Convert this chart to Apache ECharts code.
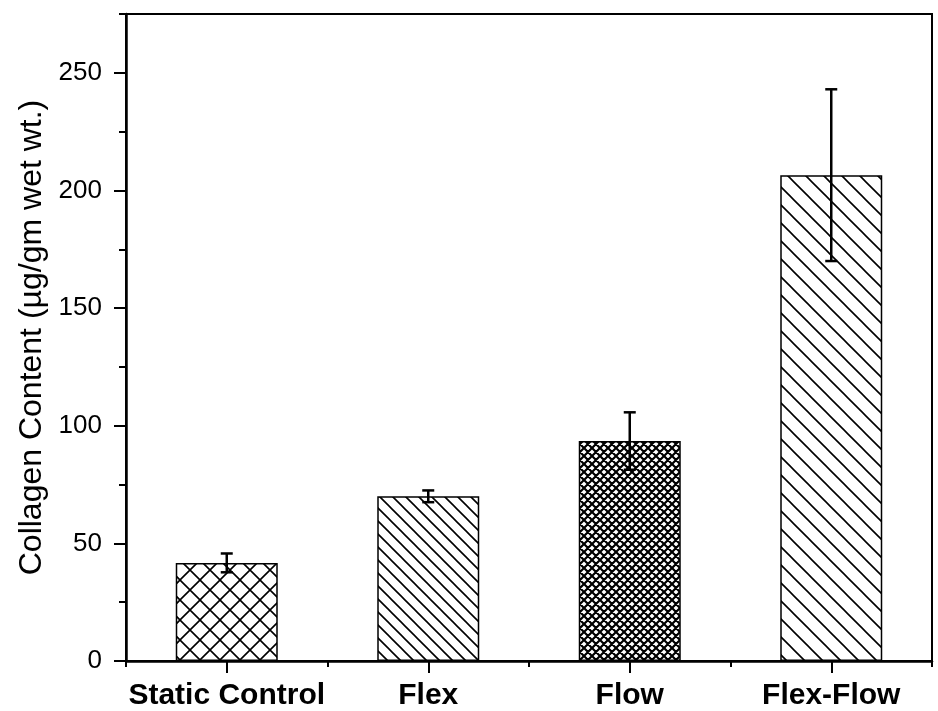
<!DOCTYPE html>
<html><head><meta charset="utf-8">
<script src="https://cdn.jsdelivr.net/npm/echarts@6/dist/echarts.min.js"></script>
<style>html,body{margin:0;padding:0;background:#fff}#c{width:938px;height:711px}</style>
</head><body><div id="c"></div>
<script>
// ---- data ----
const categories = ['Static Control', 'Flex', 'Flow', 'Flex-Flow'];
const means = [41.7, 70, 93.5, 206.5];
const errors = [4, 2.5, 12.2, 36.5];
const yAxisTitle = 'Collagen Content (\u00b5g/gm wet wt.)';

// ---- hatch patterns ----
function hatch(size, lw, back, fwd) {
  const c = document.createElement('canvas');
  c.width = c.height = size;
  const g = c.getContext('2d');
  g.fillStyle = '#fff'; g.fillRect(0, 0, size, size);
  g.strokeStyle = '#000'; g.lineWidth = lw;
  g.beginPath();
  if (back) {
    for (let k = -1; k <= 1; k++) {
      g.moveTo(k * size - lw, -lw); g.lineTo(k * size + size + lw, size + lw);
    }
  }
  if (fwd) {
    for (let k = 0; k <= 2; k++) {
      g.moveTo(k * size + lw, -lw); g.lineTo(k * size - size - lw, size + lw);
    }
  }
  g.stroke();
  return { image: c, repeat: 'repeat' };
}
const patterns = [hatch(20, 1.6, true, true), hatch(13, 1.6, true, false), hatch(8, 2.2, true, true), hatch(18, 1.6, true, false)];

const font = 'Liberation Sans, Arial, sans-serif';
const chart = echarts.init(document.getElementById('c'), null, { renderer: 'canvas' });
chart.setOption({
  animation: false,
  backgroundColor: '#fff',
  grid: { left: 126, right: 6, top: 14, bottom: 47, show: true, borderColor: '#000', borderWidth: 2, containLabel: false },
  xAxis: [
    {
      type: 'category', data: categories,
      axisLine: { lineStyle: { color: '#000', width: 2.5 } },
      axisTick: { show: true, length: 6, lineStyle: { color: '#000', width: 2 } },
      axisLabel: { color: '#000', fontFamily: font, fontSize: 30, fontWeight: 'bold', margin: 20, interval: 0, hideOverlap: false },
      splitLine: { show: false }
    },
    {
      type: 'category', data: categories, position: 'bottom',
      axisLine: { show: false },
      axisTick: { show: true, alignWithLabel: true, length: 12, interval: 0, lineStyle: { color: '#000', width: 2 } },
      axisLabel: { show: false },
      splitLine: { show: false }
    }
  ],
  yAxis: [
    {
      type: 'value', min: 0, max: 275, interval: 50,
      name: yAxisTitle, nameLocation: 'middle', nameGap: 70,
      nameTextStyle: { color: '#000', fontFamily: font, fontSize: 32 },
      axisLine: { show: true, lineStyle: { color: '#000', width: 2.5 } },
      axisTick: { show: true, length: 12, lineStyle: { color: '#000', width: 2 } },
      axisLabel: { color: '#000', fontFamily: font, fontSize: 26, margin: 24, showMaxLabel: false },
      splitLine: { show: false }
    },
    {
      type: 'value', min: 0, max: 275, interval: 25, position: 'left',
      axisLine: { show: false },
      axisTick: { show: true, length: 7, lineStyle: { color: '#000', width: 2 } },
      axisLabel: { show: false },
      splitLine: { show: false }
    }
  ],
  series: [
    {
      type: 'bar', xAxisIndex: 0, yAxisIndex: 0, barWidth: 102,
      data: means.map((v, i) => ({ value: v, itemStyle: { color: patterns[i], borderColor: '#000', borderWidth: 1.5 } })),
      z: 2
    },
    {
      type: 'custom', xAxisIndex: 0, yAxisIndex: 0, z: 5,
      data: means.map((v, i) => [i, v, errors[i]]),
      encode: { x: 0, y: 1 },
      renderItem: function (params, api) {
        const x = api.value(0), m = api.value(1), e = api.value(2);
        const top = api.coord([x, m + e]);
        const bot = api.coord([x, m - e]);
        const hw = 6;
        const st = { stroke: '#000', lineWidth: 2.5 };
        return {
          type: 'group', children: [
            { type: 'line', shape: { x1: top[0], y1: top[1], x2: bot[0], y2: bot[1] }, style: st },
            { type: 'line', shape: { x1: top[0] - hw, y1: top[1], x2: top[0] + hw, y2: top[1] }, style: st },
            { type: 'line', shape: { x1: bot[0] - hw, y1: bot[1], x2: bot[0] + hw, y2: bot[1] }, style: st }
          ]
        };
      }
    }
  ]
});
</script></body></html>
